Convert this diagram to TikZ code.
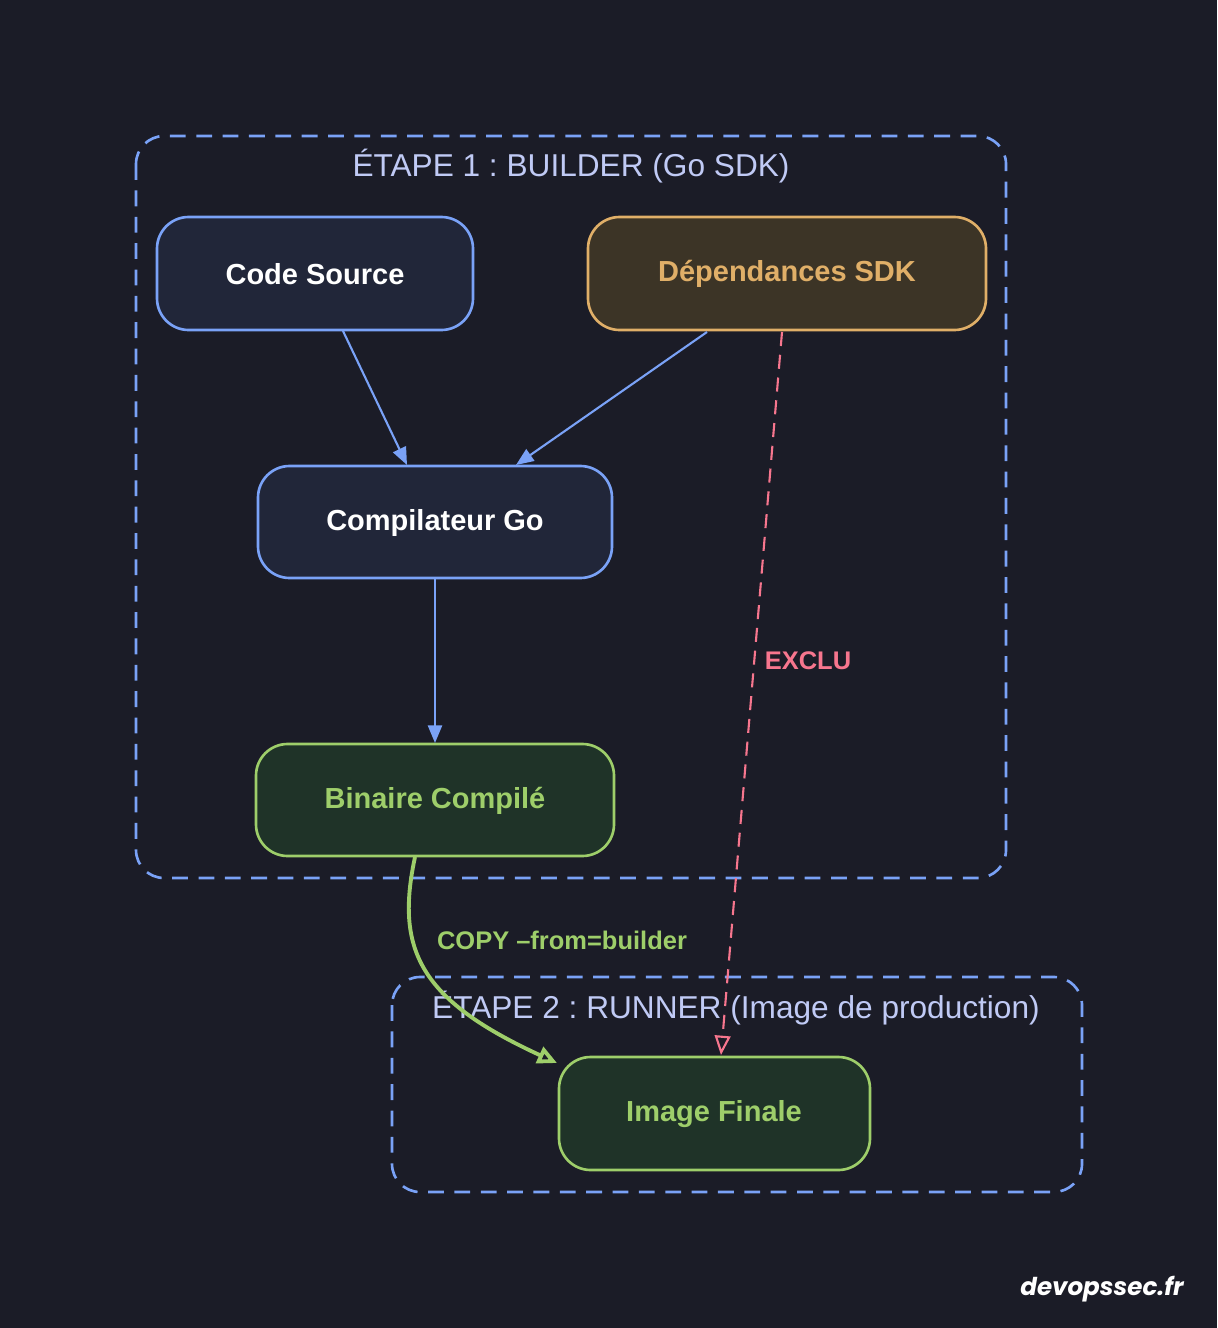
\documentclass[tikz,border=0pt]{standalone}
\usepackage{fontspec}
\setmainfont{Liberation Sans}
\newfontfamily\brand{Poppins}
\usetikzlibrary{arrows.meta}
\definecolor{bg}{HTML}{1B1C27}
\definecolor{blu}{HTML}{7AA2F7}
\definecolor{navy}{HTML}{212639}
\definecolor{org}{HTML}{E0AF68}
\definecolor{brn}{HTML}{3C3426}
\definecolor{grn}{HTML}{9ECE6A}
\definecolor{dgrn}{HTML}{1F3328}
\definecolor{pnk}{HTML}{F7768E}
\definecolor{lav}{HTML}{C0CAF5}
\begin{document}
\frenchspacing
\begin{tikzpicture}[x=0.02cm,y=-0.02cm,
 clus/.style={draw=blu,line width=1.5pt,dash pattern=on 9pt off 6pt,rounded corners=16pt},
 box/.style={draw=#1,line width=1.5pt,rounded corners=18pt},
 lbl/.style={font=\bfseries\fontsize{16.5}{19}\selectfont},
 arr/.style={blu,line width=1.2pt,-{Triangle[length=10pt,width=8pt]}}]
\fill[bg] (0,0) rectangle (1217,1328);
\draw[clus] (136,136) rectangle (1006,878);
\draw[clus] (392,977) rectangle (1082,1192);
\node[text=lav,font=\fontsize{18}{21}\selectfont] (t1) at (571,166) {ÉTAPE 1 : BUILDER (Go SDK)};
\node[text=lav,font=\fontsize{18}{21}\selectfont] (t2) at (736,1008) {ÉTAPE 2 : RUNNER (Image de production)};
\draw[box=blu,fill=navy] (157,217) rectangle (473,330);
\node[lbl,text=white] (cs) at (315,274) {Code Source};
\draw[box=org,fill=brn] (588,217) rectangle (986,330);
\node[lbl,text=org] (dep) at (787,274) {Dépendances SDK};
\draw[box=blu,fill=navy] (258,466) rectangle (612,578);
\node[lbl,text=white] (cg) at (435,523) {Compilateur Go};
\draw[box=grn,fill=dgrn] (256,744) rectangle (614,856);
\node[lbl,text=grn] (bc) at (435,801) {Binaire Compilé};
\draw[box=grn,fill=dgrn] (559,1057) rectangle (870,1170);
\node[lbl,text=grn] (img) at (714,1114) {Image Finale};
\coordinate (a1) at (343,331); \coordinate (a2) at (407,465);
\coordinate (b1) at (707,332); \coordinate (b2) at (516,465);
\coordinate (c1) at (435,579); \coordinate (c2) at (435,743);
\coordinate (d1) at (782,332); \coordinate (d2) at (721,1055);
\coordinate (e1) at (415,857); \coordinate (e2) at (557,1063);
\draw[arr] (a1) -- (a2);
\draw[arr] (b1) -- (b2);
\draw[arr] (c1) -- (c2);
\draw[pnk,line width=1.2pt,dash pattern=on 8pt off 5pt,-{Triangle[open,length=11pt,width=9pt]}] (d1) -- (d2);
\draw[grn,line width=2.2pt,-{Triangle[open,length=11pt,width=10pt]}] (e1) .. controls (395,950) and (420,1000) .. (e2);
\node[text=pnk,font=\bfseries\fontsize{14.5}{17}\selectfont] (ex) at (808,661) {EXCLU};
\node[text=grn,font=\bfseries\fontsize{14.5}{17}\selectfont] (cp) at (562,940) {COPY –from=builder};
\node[text=white,font=\brand\bfseries\itshape\fontsize{14}{17}\selectfont] (br) at (1102,1289) {devopssec.fr};
\end{tikzpicture}
\end{document}
